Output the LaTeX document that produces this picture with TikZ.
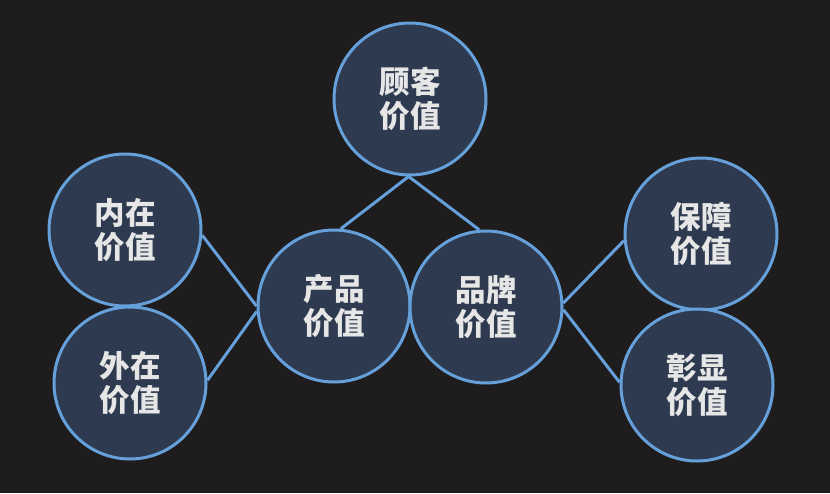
\documentclass[tikz,border=0pt]{standalone}
\usepackage{fontspec}
\newfontfamily\cjk{Noto Sans CJK SC}
\definecolor{bgc}{HTML}{1E1C1C}
\definecolor{fillc}{HTML}{2E3A4F}
\definecolor{edgec}{HTML}{66A0DA}
\definecolor{txtc}{HTML}{E6E6E6}
\begin{document}
\begin{tikzpicture}[x=1pt,y=-1pt,
  val/.style={circle,draw=edgec,fill=fillc,line width=3pt,minimum size=152pt,inner sep=0pt,
    text=txtc,font=\cjk\bfseries\fontsize{30.5pt}{34pt}\selectfont,align=center},
  link/.style={draw=edgec,line width=3pt}]
\fill[bgc] (0,0) rectangle (830,493);
\useasboundingbox (0,0) rectangle (830,493);
\node[val] (gk) at (410,99) {顾客\\价值};
\node[val] (nz) at (125,230) {内在\\价值};
\node[val] (wz) at (130,383) {外在\\价值};
\node[val] (cp) at (334,306) {产品\\价值};
\node[val] (pp) at (486,307) {品牌\\价值};
\node[val] (bz) at (701,234) {保障\\价值};
\node[val] (zx) at (697,385) {彰显\\价值};
\draw[link] (gk.-91) -- (cp.85);
\draw[link] (gk.-91) -- (pp.95);
\draw[link] (nz.-4) -- (cp.180);
\draw[link] (wz.2) -- (cp.184);
\draw[link] (pp.3) -- (bz.185);
\draw[link] (pp.-2) -- (zx.178);
\end{tikzpicture}
\end{document}
